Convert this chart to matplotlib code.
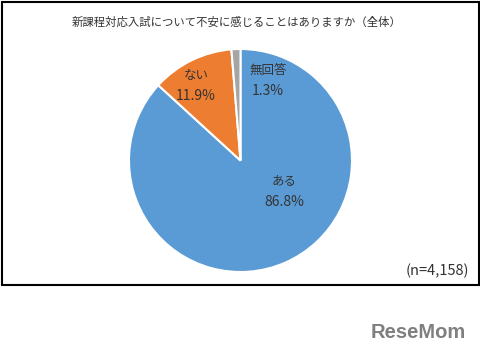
import matplotlib.pyplot as plt
from matplotlib.patches import Rectangle

plt.rcParams['font.family'] = ['Noto Sans CJK JP', 'DejaVu Sans']

# -------------------------------------------------
# Data
# -------------------------------------------------
title = '新課程対応入試について不安に感じることはありますか（全体）'
labels = ['ある', 'ない', '無回答']
values = [86.8, 11.9, 1.3]
colors = ['#5B9BD5', '#ED7D31', '#A5A5A5']
note = '(n=4,158)'

# label positions in pixels (x, y of the name line)
label_px = [(284, 181), (196, 75), (268, 70)]

W, H = 481, 360

def px(x, y):
    return x / W, 1 - y / H

fig = plt.figure(figsize=(W / 100, H / 100), dpi=100)

# chart frame
fig.patches.append(Rectangle(px(1.5, 285), 477.5 / W, 283.5 / H,
                             transform=fig.transFigure, fill=False,
                             edgecolor='black', linewidth=1.5))

# pie
cx, cy, r = 240.5, 160.5, 111.5
ax = fig.add_axes([(cx - r) / W, 1 - (cy + r) / H, 2 * r / W, 2 * r / H])
ax.pie(values, colors=colors, startangle=90, counterclock=False,
       wedgeprops=dict(edgecolor='white', linewidth=1.5))
ax.set_xlim(-1, 1)
ax.set_ylim(-1, 1)
ax.set_aspect('auto')
ax.axis('off')

txt = '#333333'
for lab, v, (x, y) in zip(labels, values, label_px):
    fig.text(*px(x, y), lab, ha='center', va='center', fontsize=9, color=txt)
    fig.text(*px(x, y + 21), f'{v:.1f}%', ha='center', va='center', fontsize=10, color=txt)

fig.text(*px(237, 22), title, ha='center', va='center', fontsize=8.2, color=txt)
fig.text(*px(469, 271), note, ha='right', va='center', fontsize=10.5, color=txt)

# watermark
fig.text(*px(466, 333), 'ReseMom', ha='right', va='center', fontsize=14.5,
         fontweight='bold', color='#7f7f7f', family='Liberation Sans')

fig.savefig('out.png', dpi=100)
